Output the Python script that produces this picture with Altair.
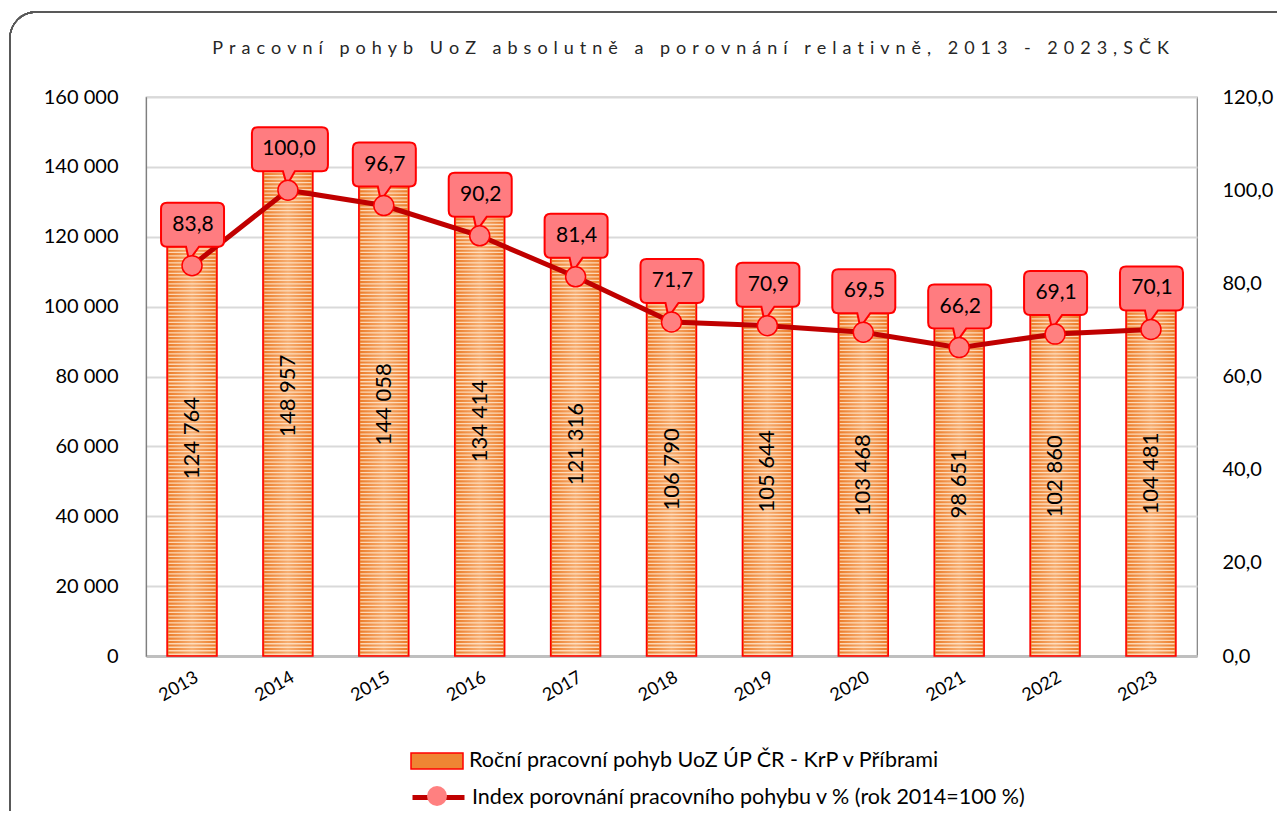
import altair as alt
import pandas as pd

years = ["2013", "2014", "2015", "2016", "2017", "2018", "2019", "2020", "2021", "2022", "2023"]
persons = [124764, 148957, 144058, 134414, 121316, 106790, 105644, 103468, 98651, 102860, 104481]
index_pct = [83.8, 100.0, 96.7, 90.2, 81.4, 71.7, 70.9, 69.5, 66.2, 69.1, 70.1]

bar_label = "Roční pracovní pohyb UoZ ÚP ČR - KrP v Příbrami"
line_label = "Index porovnání pracovního pohybu v % (rok 2014=100 %)"
title_text = "Pracovní pohyb UoZ absolutně a porovnání relativně, 2013 - 2023,SČK"
# the original title is drawn letter-spaced
title_spaced = "\u2004".join(title_text)

left_ticks = [0, 20000, 40000, 60000, 80000, 100000, 120000, 140000, 160000]
right_ticks = [0, 20, 40, 60, 80, 100, 120]

df = pd.DataFrame({"year": years, "persons": persons, "index": index_pct,
                   "s1": bar_label, "s2": line_label})

FONT = "Lato"
W, H = 1051, 559

base = alt.Chart(df)
x = alt.X("year:N", title=None,
          scale=alt.Scale(paddingInner=0.48, paddingOuter=0.22),
          axis=alt.Axis(labelAngle=-30, labelAlign="right", labelBaseline="middle",
                        labelPadding=20, labelOffset=5, labelFontSize=18, labelFont=FONT,
                        labelColor="#000000", ticks=False, domainColor="#BFBFBF",
                        domainWidth=3, grid=False))

yl_scale = alt.Scale(domain=[0, 160000], nice=False)
yl = alt.Y("persons:Q", title=None, scale=yl_scale,
           axis=alt.Axis(values=left_ticks, format=",d", labelFontSize=20, labelFont=FONT,
                         labelColor="#000000", labelPadding=28, ticks=False,
                         domainColor="#7F7F7F", domainWidth=1.2,
                         grid=True, gridColor="#D9D9D9", gridWidth=2))

frame = base.mark_rect(filled=False, stroke="#595959", strokeWidth=1.3, cornerRadius=26).encode(
    x=alt.value(-136), x2=alt.value(1200), y=alt.value(-85), y2=alt.value(820))

bars = base.mark_bar().encode(
    x=x, y=yl,
    fill=alt.Fill("s1:N", scale=alt.Scale(range=["#EF8533"]),
                  legend=alt.Legend(title=None, orient="none", legendX=264, legendY=637,
                                    symbolType="M-1,-0.31 L1,-0.31 L1,0.31 L-1,0.31 Z",
                                    symbolSize=2704, symbolStrokeColor="#FF0000",
                                    symbolStrokeWidth=1.5, labelFontSize=21.5, labelFont=FONT,
                                    labelColor="#000000", labelOffset=5, padding=0,
                                    labelLimit=800)))

glow = base.mark_bar(color=alt.LinearGradient(
    gradient="linear", x1=0, x2=1, y1=0, y2=0,
    stops=[alt.GradientStop(offset=0, color="#EC7A26"),
           alt.GradientStop(offset=0.5, color="#F6AE72"),
           alt.GradientStop(offset=1, color="#EC7A26")])).encode(x=x, y=alt.Y("persons:Q", scale=yl_scale))

stripes = base.transform_calculate(
    s="sequence(500, datum.persons - 300, 1000)"
).transform_flatten(["s"]).mark_tick(
    thickness=1.3, size=47, color="#FFE6CC", opacity=0.85
).encode(x=x, y=alt.Y("s:Q", scale=yl_scale))

outline = base.mark_bar(fillOpacity=0, stroke="#FF0000", strokeWidth=1.6).encode(
    x=x, y=alt.Y("persons:Q", scale=yl_scale))

bar_text = base.transform_calculate(mid="datum.persons / 2").mark_text(
    angle=270, fontSize=22, font=FONT, color="#000000", align="center", baseline="middle"
).encode(x=x, y=alt.Y("mid:Q", scale=yl_scale), text=alt.Text("persons:Q", format=",d"))

left = alt.layer(frame, bars, glow, stripes, outline, bar_text)

yr_scale = alt.Scale(domain=[0, 120], nice=False)
yr = alt.Y("index:Q", title=None, scale=yr_scale,
           axis=alt.Axis(orient="right", values=right_ticks, format=".1f", labelFontSize=20,
                         labelFont=FONT, labelColor="#000000", labelPadding=25, ticks=False,
                         domain=False, grid=False))

line = base.mark_line(strokeWidth=5).encode(
    x=x, y=yr,
    stroke=alt.Stroke("s2:N", scale=alt.Scale(range=["#C00000"]),
                      legend=alt.Legend(title=None, orient="none", legendX=264, legendY=672,
                                        symbolType="stroke", symbolSize=2704,
                                        symbolStrokeWidth=5, labelFontSize=21.5, labelFont=FONT,
                                        labelColor="#000000", labelOffset=5, padding=0,
                                        labelLimit=800)))

path_narrow = ("M-25,-63 L26,-63 Q32,-63 32,-57 L32,-25 Q32,-19 26,-19 L7,-19 L-3,-5 "
               "L-6,-19 L-25,-19 Q-31,-19 -31,-25 L-31,-57 Q-31,-63 -25,-63 Z")
path_wide = ("M-30,-63 L34,-63 Q40,-63 40,-57 L40,-25 Q40,-19 34,-19 L7,-19 L-1,-5 "
             "L-5,-19 L-30,-19 Q-36,-19 -36,-25 L-36,-57 Q-36,-63 -30,-63 Z")

callouts = base.transform_calculate(
    lw="length(format(datum.index, '.1f')) > 4 ? 'wide' : 'narrow'"
).mark_point(size=4, filled=True, fill="#FF7C80", stroke="#FF0000", strokeWidth=2,
             opacity=1).encode(
    x=x, y=alt.Y("index:Q", scale=yr_scale),
    shape=alt.Shape("lw:N", scale=alt.Scale(domain=["narrow", "wide"],
                                             range=[path_narrow, path_wide]), legend=None))

points = base.mark_point(filled=True, fill="#FF8080", stroke="#FF0000", strokeWidth=1.5,
                         size=400, opacity=1).encode(
    x=x, y=alt.Y("index:Q", scale=yr_scale),
    shape=alt.Shape("s2:N", scale=alt.Scale(range=["circle"]),
                    legend=alt.Legend(title=None, orient="none", legendX=280, legendY=688,
                                      symbolFillColor="#FF8080", symbolStrokeColor="#FF0000",
                                      symbolSize=400, labelExpr="''", padding=0)))

call_text = base.mark_text(dy=-41, dx=1, fontSize=21, font=FONT, color="#000000",
                           align="center", baseline="middle").encode(
    x=x, y=alt.Y("index:Q", scale=yr_scale), text=alt.Text("index:Q", format=".1f"))

right = alt.layer(line, callouts, points, call_text).resolve_scale(shape="independent")

chart = alt.layer(left, right).resolve_scale(y="independent").properties(
    width=W, height=H,
    padding={"left": 138, "top": 89, "right": 80, "bottom": 155},
    autosize=alt.AutoSizeParams(type="none"),
    title=alt.TitleParams(title_spaced, fontSize=18, font=FONT, fontWeight="normal",
                          color="#262626", anchor="middle", offset=-47, dx=19, frame="group"),
).configure_view(stroke="#7F7F7F", strokeWidth=1.2)

chart.save("out.html", embed_options={
    "renderer": "svg", "actions": False,
    "formatLocale": {"decimal": ",", "thousands": " ", "grouping": [3], "currency": ["", " Kč"]},
})
